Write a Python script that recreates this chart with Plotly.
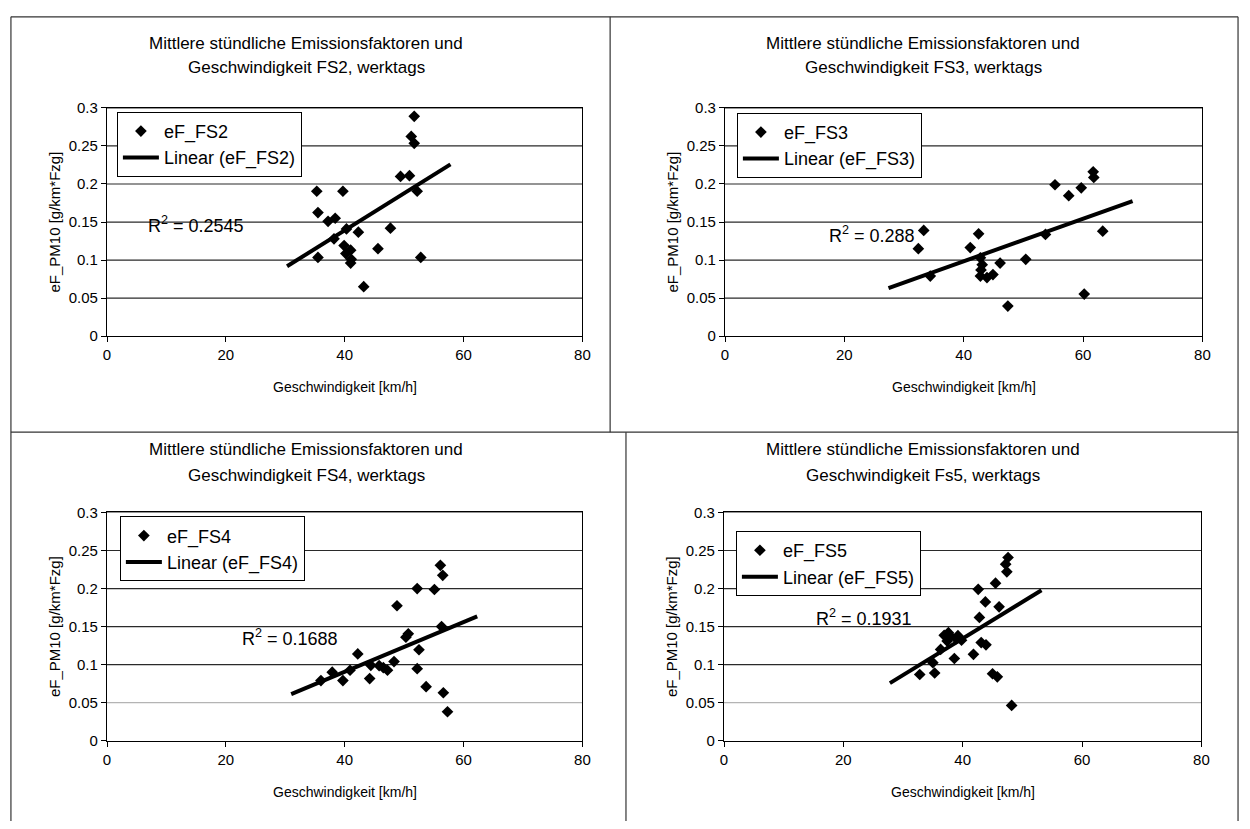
import numpy as np
import plotly.graph_objects as go

# ---------------- data ----------------
titles_line1 = ["Mittlere stündliche Emissionsfaktoren und"] * 4
titles_line2 = [
    "Geschwindigkeit FS2, werktags",
    "Geschwindigkeit FS3, werktags",
    "Geschwindigkeit FS4, werktags",
    "Geschwindigkeit Fs5, werktags",
]
series_names = ["eF_FS2", "eF_FS3", "eF_FS4", "eF_FS5"]
r2_texts = ["0.2545", "0.288", "0.1688", "0.1931"]
x_title = "Geschwindigkeit [km/h]"
y_title = "eF_PM10 [g/km*Fzg]"
x_tick_vals = [0, 20, 40, 60, 80]
y_tick_vals = [0, 0.05, 0.1, 0.15, 0.2, 0.25, 0.3]
y_tick_text = ["0", "0.05", "0.1", "0.15", "0.2", "0.25", "0.3"]

fs2_speed = [51.7, 51.2, 51.7, 49.4, 50.9, 52.2, 35.3, 39.7, 35.5, 37.2, 38.4, 40.3,
             42.3, 38.2, 47.7, 39.9, 41.0, 45.6, 40.2, 35.5, 41.1, 41.0, 52.8, 43.2]
fs2_ef = [0.289, 0.2625, 0.2535, 0.210, 0.211, 0.1905, 0.1905, 0.1905, 0.1625, 0.151, 0.155, 0.141,
          0.1367, 0.128, 0.142, 0.119, 0.113, 0.115, 0.1086, 0.1035, 0.101, 0.096, 0.1035, 0.065]

fs3_speed = [61.7, 61.8, 55.3, 57.6, 59.7, 63.3, 53.7, 33.3, 32.4, 42.5, 41.1, 42.8,
             43.1, 46.1, 50.4, 34.4, 42.8, 43.9, 44.9, 47.4, 60.2, 42.9]
fs3_ef = [0.216, 0.2086, 0.199, 0.1846, 0.195, 0.138, 0.1337, 0.139, 0.115, 0.1345, 0.1165, 0.103,
          0.094, 0.096, 0.101, 0.079, 0.079, 0.077, 0.081, 0.0395, 0.0553, 0.087]

fs4_speed = [56.1, 56.5, 52.2, 55.1, 48.8, 56.3, 50.7, 50.3, 52.5, 42.2, 52.2, 53.7,
             56.6, 57.3, 36.0, 37.9, 39.7, 40.9, 44.2, 44.4, 45.8, 47.2, 48.3, 46.5]
fs4_ef = [0.2305, 0.2174, 0.200, 0.1987, 0.1774, 0.150, 0.1404, 0.136, 0.1195, 0.114, 0.0947, 0.071,
          0.063, 0.038, 0.079, 0.090, 0.079, 0.0926, 0.0817, 0.099, 0.0986, 0.0926, 0.104, 0.096]

fs5_speed = [47.6, 47.2, 47.4, 45.5, 42.6, 43.8, 46.1, 42.8, 36.9, 37.9, 37.4, 38.9,
             39.8, 43.1, 43.9, 36.3, 41.8, 38.6, 35.0, 32.8, 35.3, 45.0, 45.8, 48.2, 37.6, 39.2]
fs5_ef = [0.2408, 0.232, 0.222, 0.207, 0.199, 0.1824, 0.176, 0.162, 0.1385, 0.1377, 0.131, 0.134,
          0.132, 0.129, 0.126, 0.120, 0.1135, 0.108, 0.1025, 0.087, 0.089, 0.088, 0.084, 0.0463, 0.142, 0.138]

speeds = [fs2_speed, fs3_speed, fs4_speed, fs5_speed]
efs = [fs2_ef, fs3_ef, fs4_ef, fs5_ef]
trend_forecast = 5  # trendline extended forward/backward (km/h)

# ---------------- layout (pixels) ----------------
W, H = 1250, 829
# plot boxes: x-left, x-right, y-top, y-bottom
boxes = [
    (104, 584, 101, 334),
    (728, 1210, 101, 334),
    (104, 584, 514, 747),
    (727, 1209, 514, 747),
]
title_centers = [305, 928, 305, 928]
title_y = [(35, 60), (35, 60), (450, 476), (450, 476)]
legend_pos = [(114, 105), (740, 106), (117, 518), (739, 533)]
# R^2 label: left edge as fraction of the x-axis width, vertical position in axis units
r2_pos = [(0.0825, 0.147), (0.2135, 0.1335), (0.28, 0.136), (0.189, 0.1625)]
light_grid = [[], [], [0.05], [0.05]]


def px(x):
    return x / W


def py(y):
    return 1 - y / H


FONT = "Liberation Sans, Arial, sans-serif"
fig = go.Figure()
annotations = []
shapes = []

for i in range(4):
    xa = "x" if i == 0 else f"x{i+1}"
    ya = "y" if i == 0 else f"y{i+1}"
    lg = "legend" if i == 0 else f"legend{i+1}"
    xs = np.array(speeds[i], dtype=float)
    ys = np.array(efs[i], dtype=float)
    fig.add_trace(go.Scatter(
        x=xs, y=ys, mode="markers", name=series_names[i],
        marker=dict(symbol="diamond", size=9, color="black"),
        xaxis=xa, yaxis=ya, legend=lg, cliponaxis=False))
    slope, icpt = np.polyfit(xs, ys, 1)
    tx = np.array([xs.min() - trend_forecast, xs.max() + trend_forecast])
    fig.add_trace(go.Scatter(
        x=tx, y=slope * tx + icpt, mode="lines", name=f"Linear ({series_names[i]})",
        line=dict(color="black", width=4),
        xaxis=xa, yaxis=ya, legend=lg))

    x0, x1, yt, yb = boxes[i]
    axis_common = dict(showline=True, linecolor="black", linewidth=1.2, mirror=True,
                       ticks="outside", ticklen=5, tickcolor="black", tickwidth=1,
                       tickfont=dict(family=FONT, size=15, color="black"), zeroline=False,
                       showgrid=False)
    fig.update_layout({
        ("xaxis" if i == 0 else f"xaxis{i+1}"): dict(
            domain=[px(x0), px(x1)], range=[0, 80], tickvals=x_tick_vals,
            anchor=ya, **axis_common),
        ("yaxis" if i == 0 else f"yaxis{i+1}"): dict(
            domain=[py(yb), py(yt)], range=[0, 0.3], tickvals=y_tick_vals, ticktext=y_tick_text,
            anchor=xa, **axis_common),
        lg: dict(x=px(legend_pos[i][0]), y=py(legend_pos[i][1]), xanchor="left", yanchor="top",
                 bgcolor="white", bordercolor="black", borderwidth=1, itemwidth=36,
                 font=dict(family=FONT, size=18, color="black"), tracegroupgap=0),
    })

    # horizontal gridlines (drawn as shapes so one of them can be lighter, as in the scan)
    for gv in y_tick_vals[1:]:
        col = "#b4b4b4" if gv in light_grid[i] else "#2a2a2a"
        shapes.append(dict(type="line", xref=f"{xa} domain", yref=ya, x0=0, x1=1, y0=gv, y1=gv,
                           line=dict(color=col, width=1.2), layer="below"))

    # chart titles
    for line, yy in zip((titles_line1[i], titles_line2[i]), title_y[i]):
        annotations.append(dict(text=line, x=px(title_centers[i]), y=py(yy), xref="paper", yref="paper",
                                xanchor="center", yanchor="middle", showarrow=False,
                                font=dict(family=FONT, size=17, color="black")))
    # axis titles
    annotations.append(dict(text=x_title, x=px((x0 + x1) / 2), y=py(yb + 52), xref="paper", yref="paper",
                            xanchor="center", yanchor="middle", showarrow=False,
                            font=dict(family=FONT, size=14, color="black")))
    annotations.append(dict(text=y_title, x=px(x0 - 53), y=py((yt + yb) / 2), xref="paper", yref="paper",
                            xanchor="center", yanchor="middle", showarrow=False, textangle=-90,
                            font=dict(family=FONT, size=15, color="black")))
    # R^2 label
    annotations.append(dict(text=f"R<sup>2</sup> = {r2_texts[i]}", x=r2_pos[i][0], y=r2_pos[i][1],
                            xref=f"{xa} domain", yref=ya, xanchor="left", yanchor="middle", showarrow=False,
                            font=dict(family=FONT, size=18, color="black")))

# panel frame lines
frame = dict(color="#333333", width=1.2)
for (a, b, c, d) in [(7, 8, 1246, 8), (7, 8, 7, 829), (1246, 8, 1246, 829), (7, 432, 1246, 432),
                     (612, 8, 612, 432), (628, 432, 628, 829)]:
    shapes.append(dict(type="line", xref="paper", yref="paper", x0=px(a), y0=py(b), x1=px(c), y1=py(d),
                       line=frame, layer="above"))

fig.update_layout(width=W, height=H, margin=dict(l=0, r=0, t=0, b=0), plot_bgcolor="white",
                  paper_bgcolor="white", annotations=annotations, shapes=shapes, showlegend=True)
fig.write_html("out.html", config={"displayModeBar": False},
               post_script="document.body.style.margin='0';document.body.style.overflow='hidden';")
